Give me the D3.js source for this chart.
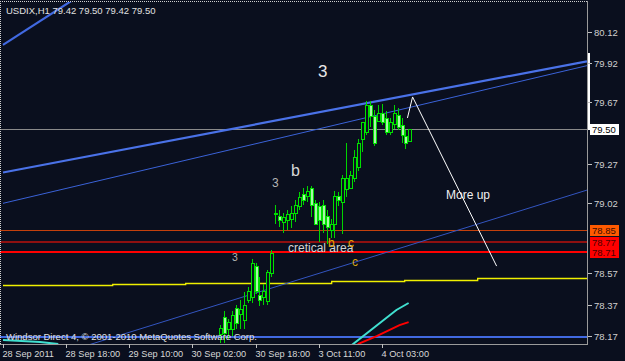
<!DOCTYPE html>
<html><head><meta charset="utf-8">
<script src="https://cdn.jsdelivr.net/npm/d3@7"></script>
<style>html,body{margin:0;padding:0;background:#0a0f1e;overflow:hidden}</style>
</head><body><svg id="c" width="625" height="361"></svg>
<script>
// ---------- data ----------
const firstBar = 55;
const opens  = [78.18,78.29,78.21,78.21,78.35,78.31,78.27,78.40,78.42,78.62,78.43,78.42,78.39,78.57,
  78.955,78.94,78.90,78.91,78.92,78.96,79.00,79.08,79.07,79.12,79.02,79.00,79.01,78.94,78.85,78.89,79.07,79.03,
  79.11,79.12,79.18,79.25,79.43,79.48,79.65,79.58,79.55,79.60,79.57,79.48,79.53,79.59,79.52,79.45,79.42];
const highs  = [78.24,78.33,78.28,78.33,78.37,78.40,78.45,78.48,78.66,78.64,78.55,78.50,78.59,78.72,
  79.01,78.98,78.96,78.98,79.00,79.04,79.09,79.12,79.13,79.13,79.04,79.03,79.04,78.98,78.92,79.10,79.09,79.20,
  79.41,79.23,79.36,79.43,79.54,79.68,79.68,79.62,79.65,79.66,79.61,79.57,79.65,79.63,79.57,79.49,79.50];
const lows   = [78.12,78.12,78.15,78.17,78.21,78.21,78.21,78.38,78.38,78.44,78.36,78.37,78.37,78.55,
  78.89,78.87,78.83,78.85,78.86,78.90,78.98,79.01,79.03,78.93,78.88,78.77,78.83,78.76,78.80,78.80,79.00,78.82,
  79.06,79.11,79.16,79.23,79.35,79.46,79.51,79.39,79.54,79.52,79.46,79.46,79.50,79.49,79.41,79.37,79.42];
const closes = [78.22,78.19,78.26,78.30,78.25,78.34,78.37,78.46,78.64,78.46,78.40,78.46,78.58,78.70,
  78.96,78.91,78.93,78.95,78.96,79.01,79.06,79.04,79.10,79.01,78.89,78.91,78.89,78.87,78.89,79.07,79.04,79.18,
  79.18,79.20,79.32,79.41,79.54,79.65,79.58,79.41,79.60,79.54,79.48,79.54,79.60,79.51,79.46,79.41,79.50];

const priceTicks = [80.12, 79.92, 79.67, 79.27, 79.02, 78.57, 78.37, 78.17];
const timeTickIdx = [0, 16, 32, 48, 64, 80, 96];
const timeTickLabels = ["28 Sep 2011","28 Sep 18:00","29 Sep 10:00","30 Sep 02:00","30 Sep 18:00","3 Oct 11:00","4 Oct 03:00"];

const levelPrices = [79.50, 78.85, 78.77, 78.71];
const levelLabels = ["79.50", "78.85", "78.77", "78.71"];

// trend lines: [barIndex, price]
const blueThick = [[0, 79.218], [148, 79.932]];
const blueThin  = [[0, 79.020], [148, 79.904]];
const blueLow   = [[0, 77.94],  [148, 79.105]];
const blueSteep = [[0, 80.037], [20, 80.363]];
const blueBase  = 78.161;
const arrowPts  = [[102.5, 79.568], [103.8, 79.703], [125.1, 78.617]];
const cyanLeft  = [[0, 78.142], [9.4, 78.130], [14, 78.116]];
const cyanRight = [[88.4, 78.11], [99.7, 78.335], [102.8, 78.38]];
const redMA     = [[89.9, 78.116], [94.7, 78.167], [100.5, 78.238], [102.8, 78.257]];
const yellowIdx    = [0, 27.8, 46.3, 64.6, 83.3, 101.8, 120.3, 148];
const yellowPrices = [78.495, 78.500, 78.506, 78.510, 78.521, 78.527, 78.540, 78.540];
const whiteMark = [79.985, 79.49];

// ---------- layout ----------
const W = 625, H = 361;
const plotL = 0, plotR = 587, plotT = 2, plotB = 344;
const x = d3.scaleLinear().domain([0, 96]).range([3, 381.8]);
const y = d3.scaleLinear().domain([78.17, 80.12]).range([335.7, 32]);
const svg = d3.select("#c");
svg.append("rect").attr("width", W).attr("height", H).attr("fill", "#0a0f1e");

svg.append("defs").append("clipPath").attr("id", "pc")
  .append("rect").attr("x", plotL).attr("y", plotT).attr("width", plotR - plotL).attr("height", plotB - plotT);
const g = svg.append("g").attr("clip-path", "url(#pc)");

const line = d3.line().x(d => x(d[0])).y(d => y(d[1]));
const font = "'Liberation Sans', Arial, sans-serif";

// horizontal levels
const hline = (p, color, w) => g.append("line").attr("x1", plotL).attr("x2", plotR)
  .attr("y1", Math.round(y(p)) + (w % 2 ? 0.5 : 0)).attr("y2", Math.round(y(p)) + (w % 2 ? 0.5 : 0))
  .attr("stroke", color).attr("stroke-width", w).attr("shape-rendering", "crispEdges");
hline(levelPrices[0], "#8a8a8a", 1);
hline(levelPrices[1], "#c4400c", 1);
hline(levelPrices[2], "#8e1010", 2);
hline(levelPrices[3], "#ff0000", 2);
hline(blueBase, "#4169e1", 2);

// yellow stepped line
g.append("path").datum(yellowIdx.map((d, i) => [d, yellowPrices[i]]))
  .attr("d", d3.line().x(d => x(d[0])).y(d => Math.round(y(d[1])) + 0.5).curve(d3.curveStepAfter))
  .attr("fill", "none").attr("stroke", "#f0f000").attr("stroke-width", 1.3);

// trend lines
const tl = (pts, color, w) => g.append("path").datum(pts).attr("d", line)
  .attr("fill", "none").attr("stroke", color).attr("stroke-width", w);
tl(blueSteep, "#4169e1", 2.2);
tl(blueThick, "#4a72e8", 2.2);
tl(blueThin, "#3a62d8", 1);
tl(blueLow, "#3355c0", 1);
tl(cyanLeft, "#40e0d0", 2);
tl(cyanRight, "#40e0d0", 2);
tl(redMA, "#ff0000", 2);

// candles
const bars = opens.map((o, k) => ({i: firstBar + k, o, h: highs[k], l: lows[k], c: closes[k]}));
const cg = g.append("g");
bars.forEach(b => {
  const cx = Math.round(x(b.i)) + 0.5;
  cg.append("line").attr("x1", cx).attr("x2", cx).attr("y1", y(b.h)).attr("y2", y(b.l))
    .attr("stroke", "#00d400").attr("stroke-width", 1).attr("shape-rendering", "crispEdges");
  const top = Math.round(y(Math.max(b.o, b.c))), bot = Math.round(y(Math.min(b.o, b.c)));
  cg.append("rect").attr("x", cx - 1.5).attr("y", top + 0.5).attr("width", 3).attr("height", Math.max(1, bot - top))
    .attr("fill", b.c >= b.o ? "#0a0f1e" : "#a8f5a8")
    .attr("stroke", "#00e000").attr("stroke-width", 1).attr("shape-rendering", "crispEdges");
});

// arrow
tl(arrowPts, "#ffffff", 1);

// annotations
const txt = (t, px, py, size, color) => svg.append("text").attr("x", px).attr("y", py)
  .attr("font-family", font).attr("font-size", size).attr("fill", color).text(t);
txt("3", 318, 77, 17, "#e8e8e8");
txt("b", 291, 176, 16, "#d8d8d8");
txt("3", 272, 187, 12, "#b4b4b4");
txt("3", 232, 261, 10.5, "#b4b4b4");
txt("cretical area", 288, 252, 12, "#d4d4d4");
txt("b", 328, 247, 12, "#e8a400");
txt("c", 348, 247, 12, "#e8a400");
txt("c", 352, 266, 12, "#d4a410");
txt("More up", 446, 199, 12, "#f0f0f0");
txt("USDIX,H1  79.42 79.50 79.42 79.50", 6, 13.5, 9.5, "#e0e0e0");
txt("Windsor Direct 4, \u00A9 2001-2010 MetaQuotes Software Corp.", 6, 339.5, 9.5, "#e0e0e0");

// borders
svg.append("line").attr("x1", 0).attr("x2", plotR).attr("y1", 1.5).attr("y2", 1.5)
  .attr("stroke", "#d0d0d0").attr("stroke-dasharray", "1,1").attr("shape-rendering", "crispEdges");
svg.append("line").attr("x1", 0.5).attr("x2", 0.5).attr("y1", 1).attr("y2", plotB)
  .attr("stroke", "#d0d0d0").attr("stroke-dasharray", "1,1").attr("shape-rendering", "crispEdges");
svg.append("line").attr("x1", plotR + 0.5).attr("x2", plotR + 0.5).attr("y1", 1).attr("y2", plotB + 1)
  .attr("stroke", "#9a9a9a").attr("shape-rendering", "crispEdges");
svg.append("line").attr("x1", 0).attr("x2", plotR + 1).attr("y1", plotB + 0.5).attr("y2", plotB + 0.5)
  .attr("stroke", "#9a9a9a").attr("shape-rendering", "crispEdges");
svg.append("line").attr("x1", plotR + 1.5).attr("x2", plotR + 1.5).attr("y1", y(whiteMark[0])).attr("y2", y(whiteMark[1]))
  .attr("stroke", "#ffffff").attr("stroke-width", 2).attr("shape-rendering", "crispEdges");

// right price axis
priceTicks.forEach(p => {
  const py = Math.round(y(p)) + 0.5;
  svg.append("line").attr("x1", plotR + 1).attr("x2", plotR + 5).attr("y1", py).attr("y2", py)
    .attr("stroke", "#c0c0c0").attr("shape-rendering", "crispEdges");
  svg.append("text").attr("x", plotR + 7).attr("y", py + 3.5).attr("font-family", font).attr("font-size", 9.5)
    .attr("fill", "#d0d0d0").text(p.toFixed(2));
});
// level label boxes
const boxFill = ["#ffffff", "#ff5a00", "#ff0000", "#ff0000"];
const boxText = ["#000000", "#3a0a00", "#4a0000", "#4a0000"];
levelPrices.forEach((p, k) => {
  const py = y(p);
  svg.append("rect").attr("x", plotR + 3).attr("y", Math.round(py) - 5).attr("width", 29).attr("height", 11)
    .attr("fill", boxFill[k]);
  svg.append("text").attr("x", plotR + 5).attr("y", Math.round(py) + 4).attr("font-family", font)
    .attr("font-size", 9.5).attr("fill", boxText[k]).text(levelLabels[k]);
});

// bottom time axis
timeTickIdx.forEach((ix, k) => {
  const px = Math.round(x(ix)) + 0.5;
  svg.append("line").attr("x1", px).attr("x2", px).attr("y1", plotB).attr("y2", plotB + 4)
    .attr("stroke", "#c0c0c0").attr("shape-rendering", "crispEdges");
  svg.append("text").attr("x", px - 1).attr("y", 357).attr("font-family", font).attr("font-size", 9.2)
    .attr("fill", "#d8d8d8").text(timeTickLabels[k]);
});
</script></body></html>
